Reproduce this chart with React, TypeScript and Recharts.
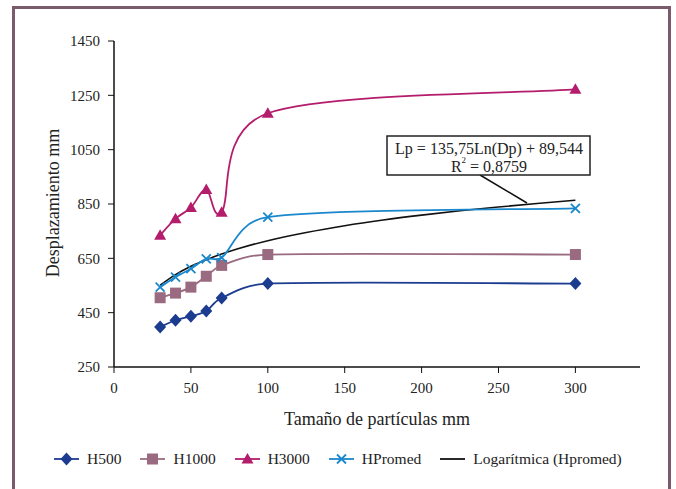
import { LineChart, Line, XAxis, YAxis } from 'recharts';

const xs = [30, 40, 50, 60, 70, 100, 300];
const h500 = [397, 422, 437, 456, 504, 557, 557];
const h1000 = [505, 522, 544, 584, 624, 664, 664];
const h3000 = [735, 796, 837, 903, 820, 1184, 1272];
const hPromed = [544, 581, 612, 648, 653, 802, 834];

// trend line (Lp = 135,75 Ln(Dp) + 89,544)
const trendX = [30, 40, 50, 60, 70, 80, 100, 125, 150, 175, 200, 225, 250, 275, 300];
const trendY = [551, 590, 621, 645, 666, 684, 715, 745, 770, 791, 809, 825, 839, 852, 864];

const xTicks = [0, 50, 100, 150, 200, 250, 300];
const yTicks = [250, 450, 650, 850, 1050, 1250, 1450];

const FONT = '"Liberation Serif", "Times New Roman", serif';

const C500 = '#1c3c8f';
const C1000 = '#9a6b80';
const C3000 = '#b41c6c';
const CPROM = '#1a88cc';

const toRows = (vals: number[]) => xs.map((x, i) => ({ x, y: vals[i] }));
const trendRows = trendX.map((x, i) => ({ x, y: trendY[i] }));

// Excel-like smoothed line: Catmull-Rom beziers with capped tangents
const excelSmooth = (context: any) => {
    let pts: number[][] = [];
    const dist = (a: number[], b: number[]) => Math.hypot(b[0] - a[0], b[1] - a[1]);
    return {
        areaStart() {},
        areaEnd() {},
        lineStart() {
            pts = [];
        },
        point(x: number, y: number) {
            pts.push([+x, +y]);
        },
        lineEnd() {
            if (!pts.length) return;
            context.moveTo(pts[0][0], pts[0][1]);
            for (let i = 0; i < pts.length - 1; i++) {
                const p0 = pts[Math.max(0, i - 1)];
                const p1 = pts[i];
                const p2 = pts[i + 1];
                const p3 = pts[Math.min(pts.length - 1, i + 2)];
                const d12 = dist(p1, p2);
                const d02 = dist(p0, p2);
                const d13 = dist(p1, p3);
                const f1 = d02 > 0 ? Math.min(1 / 6, d12 / (2 * d02)) : 0;
                const f2 = d13 > 0 ? Math.min(1 / 6, d12 / (2 * d13)) : 0;
                context.bezierCurveTo(
                    p1[0] + (p2[0] - p0[0]) * f1,
                    p1[1] + (p2[1] - p0[1]) * f1,
                    p2[0] - (p3[0] - p1[0]) * f2,
                    p2[1] - (p3[1] - p1[1]) * f2,
                    p2[0],
                    p2[1]
                );
            }
        },
    };
};

const Diamond = ({ cx, cy, fill }: any) => (
    <path d={`M${cx},${cy - 6.5}L${cx + 6},${cy}L${cx},${cy + 6.5}L${cx - 6},${cy}Z`} fill={fill} />
);
const Square = ({ cx, cy, fill }: any) => (
    <rect x={cx - 5.5} y={cy - 5.5} width={11} height={11} fill={fill} />
);
const Triangle = ({ cx, cy, fill }: any) => (
    <path d={`M${cx},${cy - 6}L${cx + 6},${cy + 4.5}L${cx - 6},${cy + 4.5}Z`} fill={fill} />
);
const Cross = ({ cx, cy, stroke }: any) => (
    <path d={`M${cx - 4.5},${cy - 4.5}L${cx + 4.5},${cy + 4.5}M${cx + 4.5},${cy - 4.5}L${cx - 4.5},${cy + 4.5}`} stroke={stroke} strokeWidth={1.8} fill="none" />
);

const dotFn = (Shape: any, color: string) => (props: any) => {
    if (props.cx == null || props.cy == null) return <g key={props.index} />;
    return <Shape key={`d-${props.index}`} cx={props.cx} cy={props.cy} fill={color} stroke={color} />;
};

const legendItems = [
    { name: 'H500', color: C500, Shape: Diamond },
    { name: 'H1000', color: C1000, Shape: Square },
    { name: 'H3000', color: C3000, Shape: Triangle },
    { name: 'HPromed', color: CPROM, Shape: Cross },
    { name: 'Logarítmica (Hpromed)', color: '#111', Shape: null },
];

export default function App() {
    const tickStyle = { fontFamily: FONT, fontSize: 15, fill: '#222' };
    return (
        <div style={{ position: 'absolute', left: 0, top: 0, width: 676, height: 489, overflow: 'hidden', background: '#fff' }}>
            <div
                style={{
                    position: 'absolute',
                    left: 12,
                    top: 6,
                    width: 653,
                    height: 520,
                    border: '3px solid #7b5a6c',
                    boxSizing: 'content-box',
                }}
            />
            <div style={{ position: 'absolute', left: 0, top: 0 }}>
                <LineChart width={676} height={489} margin={{ top: 41, right: 36, left: 0, bottom: 92 }}>
                    <XAxis
                        type="number"
                        dataKey="x"
                        domain={[0, 342]}
                        ticks={xTicks}
                        allowDataOverflow
                        height={30}
                        tickSize={6}
                        tickMargin={9}
                        tick={tickStyle}
                        axisLine={{ stroke: '#111', strokeWidth: 1.5 }}
                        tickLine={{ stroke: '#111', strokeWidth: 1 }}
                    />
                    <YAxis
                        type="number"
                        domain={[250, 1450]}
                        ticks={yTicks}
                        width={114}
                        tickSize={6}
                        tickMargin={8}
                        tick={tickStyle}
                        axisLine={{ stroke: '#111', strokeWidth: 1.5 }}
                        tickLine={{ stroke: '#111', strokeWidth: 1 }}
                    />
                    <Line data={trendRows} dataKey="y" type="monotone" stroke="#111" strokeWidth={1.6} dot={false} isAnimationActive={false} />
                    <Line data={toRows(h500)} dataKey="y" type={excelSmooth as any} stroke={C500} strokeWidth={1.8} dot={dotFn(Diamond, C500)} isAnimationActive={false} />
                    <Line data={toRows(h1000)} dataKey="y" type={excelSmooth as any} stroke={C1000} strokeWidth={1.8} dot={dotFn(Square, C1000)} isAnimationActive={false} />
                    <Line data={toRows(h3000)} dataKey="y" type={excelSmooth as any} stroke={C3000} strokeWidth={1.8} dot={dotFn(Triangle, C3000)} isAnimationActive={false} />
                    <Line data={toRows(hPromed)} dataKey="y" type={excelSmooth as any} stroke={CPROM} strokeWidth={1.8} dot={dotFn(Cross, CPROM)} isAnimationActive={false} />
                </LineChart>
            </div>
            <svg width={676} height={489} style={{ position: 'absolute', left: 0, top: 0, pointerEvents: 'none' }}>
                <text x={53} y={203} transform="rotate(-90 53 203)" textAnchor="middle" dominantBaseline="central" fontFamily={FONT} fontSize={18} fill="#222">
                    Desplazamiento mm
                </text>
                <text x={377} y={419} textAnchor="middle" dominantBaseline="central" fontFamily={FONT} fontSize={18} fill="#222">
                    Tamaño de partículas mm
                </text>
                <line x1={480} y1={175} x2={527} y2={203} stroke="#111" strokeWidth={1.5} />
                <rect x={387} y={136} width={203} height={39} fill="#fff" stroke="#222" strokeWidth={1.5} />
                <text x={489} y={148} textAnchor="middle" dominantBaseline="central" fontFamily={FONT} fontSize={16} fill="#222">
                    Lp = 135,75Ln(Dp) + 89,544
                </text>
                <text x={489} y={166} textAnchor="middle" dominantBaseline="central" fontFamily={FONT} fontSize={16} fill="#222">
                    R<tspan fontSize={9} dy={-6}>2</tspan>
                    <tspan dy={6}> = 0,8759</tspan>
                </text>
            </svg>
            <div
                style={{
                    position: 'absolute',
                    left: 54,
                    top: 450,
                    display: 'flex',
                    alignItems: 'center',
                    gap: 19,
                    fontFamily: FONT,
                    fontSize: 15.5,
                    color: '#222',
                    whiteSpace: 'nowrap',
                }}
            >
                {legendItems.map((it) => (
                    <div key={it.name} style={{ display: 'flex', alignItems: 'center', gap: 8 }}>
                        <svg width={25} height={14}>
                            <line x1={0} y1={7} x2={25} y2={7} stroke={it.color} strokeWidth={1.8} />
                            {it.Shape ? <it.Shape cx={12.5} cy={7} fill={it.color} stroke={it.color} /> : null}
                        </svg>
                        <span>{it.name}</span>
                    </div>
                ))}
            </div>
        </div>
    );
}
